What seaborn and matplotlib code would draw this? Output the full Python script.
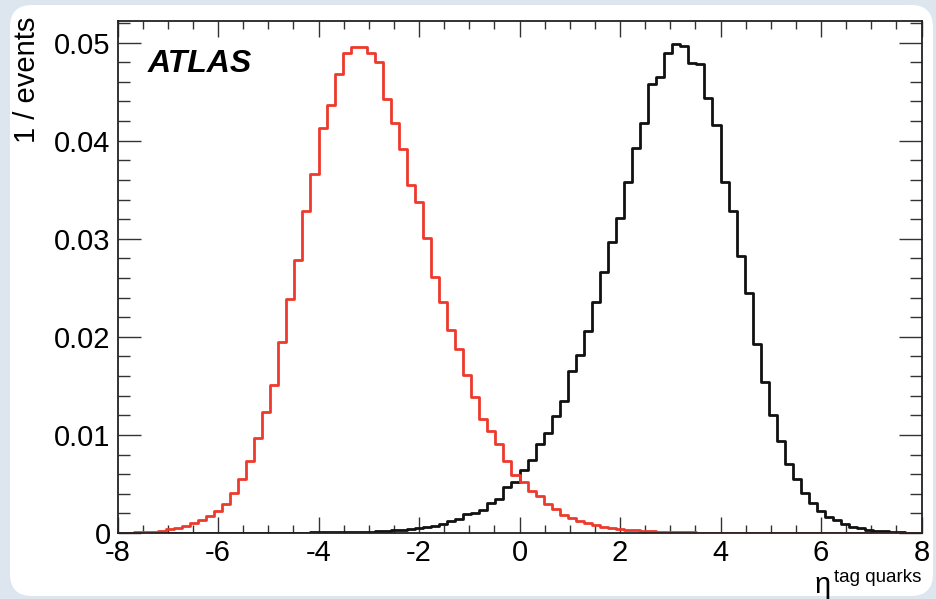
import numpy as np
import pandas as pd
import matplotlib
matplotlib.use("Agg")
import matplotlib.pyplot as plt
import seaborn as sns
from matplotlib.patches import FancyBboxPatch
from matplotlib.ticker import MultipleLocator

# ---- binning of the pseudorapidity histograms (100 bins from -8 to 8) ----
eta_min, eta_max, n_bins = -8.0, 8.0, 100

# normalised bin contents, tag quark in the backward hemisphere (red)
eta_backward = [
    0.00003, 0.00005, 0.00007, 0.0001, 0.00015, 0.0002, 0.0004, 0.0005, 0.0007, 0.0010,
    0.0013, 0.0017, 0.0022, 0.0030, 0.0041, 0.0055, 0.0073, 0.0097, 0.0123, 0.0151,
    0.0195, 0.0239, 0.0278, 0.0328, 0.0366, 0.0413, 0.0436, 0.0468, 0.0489, 0.0495,
    0.0495, 0.0489, 0.0480, 0.0442, 0.0418, 0.0391, 0.0355, 0.0337, 0.0301, 0.0261,
    0.0236, 0.0207, 0.0188, 0.0161, 0.0139, 0.0116, 0.0104, 0.0091, 0.0073, 0.0059,
    0.0052, 0.0043, 0.0038, 0.0030, 0.0024, 0.0018, 0.0015, 0.0012, 0.0010, 0.0008,
    0.0006, 0.0005, 0.0004, 0.0003, 0.0003, 0.0002, 0.0002, 0.00015, 0.0001, 0.0001,
    0.00008, 0.00006, 0.00005, 0.00004, 0.00003, 0.00003, 0.00002, 0.00002, 0.00002, 0.00001,
    0.00001, 0.00001, 0.00001, 0.00001, 0.0, 0.0, 0.0, 0.0, 0.0, 0.0,
    0.0, 0.0, 0.0, 0.0, 0.0, 0.0, 0.0, 0.0, 0.0, 0.0,
]

# normalised bin contents, tag quark in the forward hemisphere (black)
eta_forward = [
    0.0, 0.0, 0.0, 0.0, 0.0, 0.0, 0.0, 0.0, 0.0, 0.0,
    0.00001, 0.00001, 0.00001, 0.00001, 0.00001, 0.00002, 0.00002, 0.00002, 0.00002, 0.00002,
    0.00003, 0.00004, 0.00005, 0.00005, 0.00006, 0.00007, 0.0001, 0.0001, 0.0001, 0.00012,
    0.00014, 0.00015, 0.00018, 0.0002, 0.0003, 0.0003, 0.0004, 0.0005, 0.0006, 0.0007,
    0.0009, 0.0012, 0.0014, 0.0019, 0.0020, 0.0023, 0.0031, 0.0035, 0.0047, 0.0052,
    0.0064, 0.0074, 0.0091, 0.0102, 0.0119, 0.0135, 0.0165, 0.0181, 0.0206, 0.0236,
    0.0266, 0.0297, 0.0321, 0.0358, 0.0393, 0.0418, 0.0458, 0.0465, 0.0489, 0.0499,
    0.0497, 0.0479, 0.0478, 0.0443, 0.0416, 0.0358, 0.0328, 0.0282, 0.0245, 0.0193,
    0.0154, 0.0120, 0.0094, 0.0070, 0.0055, 0.0041, 0.0031, 0.0022, 0.0016, 0.0013,
    0.0009, 0.0006, 0.0005, 0.0003, 0.0002, 0.0002, 0.0001, 0.0001, 0.00005, 0.00003,
]

x_ticks = [-8, -6, -4, -2, 0, 2, 4, 6, 8]
x_tick_labels = ["-8", "-6", "-4", "-2", "0", "2", "4", "6", "8"]
y_ticks = [0.0, 0.01, 0.02, 0.03, 0.04, 0.05]
y_tick_labels = ["0", "0.01", "0.02", "0.03", "0.04", "0.05"]
y_max = 0.0522

# ---- data frame for seaborn ----
bin_width = (eta_max - eta_min) / n_bins
centers = eta_min + bin_width * (np.arange(n_bins) + 0.5)
df = pd.DataFrame({"eta": centers, "backward": eta_backward, "forward": eta_forward})

# ---- style ----
sns.set_style("ticks")
plt.rcParams["font.family"] = ["Liberation Sans", "DejaVu Sans"]
plt.rcParams["axes.unicode_minus"] = False
plt.rcParams["text.color"] = "black"

W, H = 936, 599
fig = plt.figure(figsize=(W / 100, H / 100), dpi=100)
fig.patch.set_facecolor("#dde5ef")

# white rounded slide panel behind the plot
panel = FancyBboxPatch((10 / 100, 3 / 100), 923 / 100, 591 / 100,
                       boxstyle="round,pad=0,rounding_size=0.22",
                       transform=fig.dpi_scale_trans, facecolor="white",
                       edgecolor="none", zorder=-10)
fig.patches.append(panel)

ax = fig.add_axes([117.5 / W, 1 - 533 / H, 804 / W, 512 / H])
ax.set_facecolor("white")
ax.set_zorder(1)

hist_kws = dict(data=df, x="eta", bins=n_bins, binrange=(eta_min, eta_max),
                element="step", fill=False, linewidth=2.0, ax=ax)
sns.histplot(weights="forward", color="#111111", **hist_kws)
sns.histplot(weights="backward", color="#ee3a2c", **hist_kws)

ax.set_xlim(eta_min, eta_max)
ax.set_ylim(0, y_max)
ax.set_xlabel("")
ax.set_ylabel("")

ax.set_xticks(x_ticks)
ax.set_xticklabels(x_tick_labels)
ax.set_yticks(y_ticks)
ax.set_yticklabels(y_tick_labels)
ax.xaxis.set_minor_locator(MultipleLocator(0.5))
ax.yaxis.set_minor_locator(MultipleLocator(0.002))

ax.tick_params(which="both", direction="in", top=True, right=True,
               bottom=True, left=True, color="#333333", width=1.0,
               labelsize=21, labelcolor="black")
ax.tick_params(axis="x", which="major", length=11.5, pad=4)
ax.tick_params(axis="x", which="minor", length=5.8)
ax.tick_params(axis="y", which="major", length=16.5, pad=5)
ax.tick_params(axis="y", which="minor", length=8.6)

for sp in ax.spines.values():
    sp.set_visible(True)
    sp.set_linewidth(1.3)
    sp.set_color("#222222")

# experiment label
ax.text(0.038, 0.900, "ATLAS", transform=ax.transAxes, fontsize=23,
        fontweight="bold", fontstyle="italic", ha="left", va="baseline",
        color="black")

# axis titles
fig.text(27 / W, 1 - 17 / H, "1 / events", rotation=90, fontsize=21,
         ha="center", va="top", color="black")
fig.text(831 / W, 1 - 593 / H, "η", fontsize=21, ha="right", va="baseline",
         color="black")
fig.text(921 / W, 1 - 582 / H, "tag quarks", fontsize=13.5, ha="right",
         va="baseline", color="black")

fig.savefig("out.png", dpi=100, facecolor=fig.get_facecolor())
